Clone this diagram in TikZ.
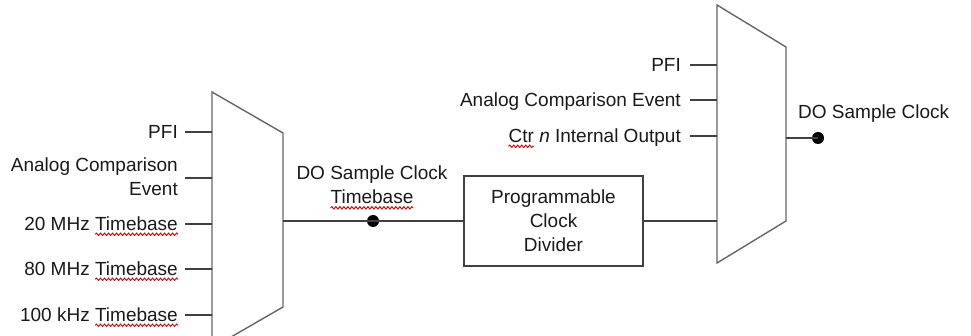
\documentclass[tikz,border=0pt]{standalone}
\usepackage{fontspec}
\setmainfont{Liberation Sans}
\usetikzlibrary{decorations.pathmorphing}
\newlength\wavetb
\newlength\wavectr
\begin{document}
\settowidth\wavetb{\fontsize{19}{24}\selectfont Timebase}%
\settowidth\wavectr{\fontsize{19}{24}\selectfont Ctr}%
\begin{tikzpicture}[x=1pt,y=-1pt,
  wire/.style={line width=1.4pt, draw=black!75},
  muxst/.style={line width=1.4pt, draw=black!60, line join=miter},
  lbl/.style={font=\fontsize{19}{24}\selectfont, text=black!90, inner sep=0pt},
  oneline/.style={lbl, text height=13.6pt, text depth=0pt},
  dotst/.style={circle, fill=black, inner sep=0pt, minimum size=12pt},
  boxst/.style={lbl, draw=black!75, line width=1.4pt, minimum width=179pt, minimum height=90pt, align=center},
  wavest/.style={red!85!black, line width=0.9pt, decoration={snake, amplitude=1.2pt, segment length=4pt}}]
\useasboundingbox (0,0) rectangle (971,336);

% left multiplexer
\draw[muxst] (212,92) -- (283,133) -- (283,307) -- (212,348) -- cycle;
\coordinate (m1i1) at (212,132);
\coordinate (m1i2) at (212,178);
\coordinate (m1i3) at (212,224);
\coordinate (m1i4) at (212,269);
\coordinate (m1i5) at (212,315);
\coordinate (m1o) at (283,221);

\node[oneline, anchor=east] (l1) at (178,132) {PFI};
\node[lbl, anchor=north east, align=right] (l2) at (178,158) {Analog Comparison\\Event};
\node[oneline, anchor=east] (l3) at (178,224) {20 MHz Timebase};
\node[oneline, anchor=east] (l4) at (178,269) {80 MHz Timebase};
\node[oneline, anchor=east] (l5) at (178,315) {100 kHz Timebase};

\draw[wavest, decorate] ([xshift=-\wavetb, yshift=-3.5pt]l3.base east) -- ([yshift=-3.5pt]l3.base east);
\draw[wavest, decorate] ([xshift=-\wavetb, yshift=-3.5pt]l4.base east) -- ([yshift=-3.5pt]l4.base east);
\draw[wavest, decorate] ([xshift=-\wavetb, yshift=-3.5pt]l5.base east) -- ([yshift=-3.5pt]l5.base east);

\draw[wire] ([xshift=7pt]l1.east) -- (m1i1);
\draw[wire] ([xshift=7pt]l2.east |- m1i2) -- (m1i2);
\draw[wire] ([xshift=7pt]l3.east) -- (m1i3);
\draw[wire] ([xshift=7pt]l4.east) -- (m1i4);
\draw[wire] ([xshift=7pt]l5.east) -- (m1i5);

% timebase output
\node[dotst] (d1) at (373,221) {};
\node[lbl, anchor=north, align=center] (tb) at (372,166) {DO Sample Clock\\Timebase};
\draw[wavest, decorate] ([xshift=-0.5\wavetb, yshift=-3.5pt]tb.south) -- ([xshift=0.5\wavetb, yshift=-3.5pt]tb.south);
\node[boxst] (div) at (553.5,221) {Programmable\\Clock\\Divider};
\draw[wire] (m1o) -- (d1.center) -- (div.west);

% right multiplexer
\draw[muxst] (717,5) -- (786,47) -- (786,221) -- (717,263) -- cycle;
\coordinate (m2i1) at (717,65);
\coordinate (m2i2) at (717,100);
\coordinate (m2i3) at (717,136);
\coordinate (m2i4) at (717,221);
\coordinate (m2o) at (786,138);

\node[oneline, anchor=east] (r1) at (681,65) {PFI};
\node[oneline, anchor=east] (r2) at (681,100) {Analog Comparison Event};
\node[oneline, anchor=east] (r3) at (681,136) {Ctr \textit{n} Internal Output};
\draw[wavest, decorate] ([yshift=-3.5pt]r3.base west) -- ([xshift=\wavectr, yshift=-3.5pt]r3.base west);

\draw[wire] ([xshift=9pt]r1.east) -- (m2i1);
\draw[wire] ([xshift=9pt]r2.east) -- (m2i2);
\draw[wire] ([xshift=9pt]r3.east) -- (m2i3);
\draw[wire] (div.east) -- (m2i4);

\node[dotst] (d2) at (818,138) {};
\node[oneline, anchor=west] (out) at (798,112) {DO Sample Clock};
\draw[wire] (m2o) -- (d2.center);
\end{tikzpicture}
\end{document}
